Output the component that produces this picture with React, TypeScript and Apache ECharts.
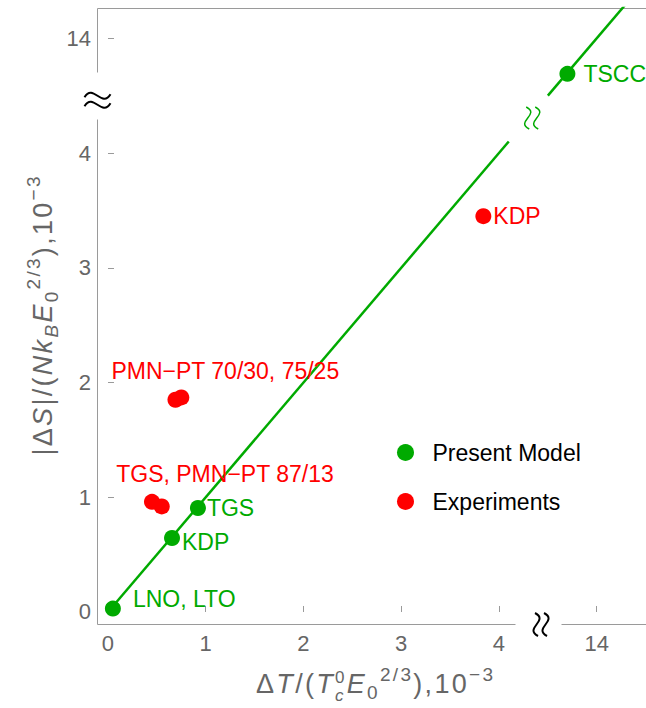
import React, { useEffect, useRef } from 'react';
import * as echarts from 'echarts';

// ---------------- data (values in units of 1e-3) ----------------
const xTickLabels = [0, 1, 2, 3, 4, 14];
const yTickLabels = [0, 1, 2, 3, 4, 14];

const modelLabels = ['LNO, LTO', 'KDP', 'TGS', 'TSCC'];
const modelDT = [0.05, 0.655, 0.92, 13.7];
const modelDS = [0.03, 0.645, 0.906, 13.69];

const expLabels = ['', 'PMN−PT 70/30, 75/25', 'TGS, PMN−PT 87/13', '', 'KDP'];
const expDT = [0.69, 0.75, 0.45, 0.55, 3.84];
const expDS = [1.85, 1.87, 0.96, 0.92, 3.45];

// model line |ΔS| = ΔT, drawn in two pieces around the axis break
const fitLowDT = [0, 4.1];
const fitLowDS = [0, 4.1];
const fitHighDT = [13.5, 14.6];
const fitHighDS = [13.5, 14.6];

// ---------------- broken-axis mapping ----------------
const BREAK_SPLIT = 9;
const BREAK_SHIFT = 9;
const disp = (v: number) => (v > BREAK_SPLIT ? v - BREAK_SHIFT : v);
const undisp = (v: number) => (v > 4.5 ? Math.round(v + BREAK_SHIFT) : Math.round(v * 100) / 100);

// ---------------- layout / style ----------------
const X_MIN = -0.1125, X_MAX = 5.504;
const Y_MIN = -0.1046, Y_MAX = 5.264;
const X_GAP = [4.16, 4.63];
const Y_GAP = [4.3, 4.706];
const X_BREAK_MARK = 4.43;
const Y_BREAK_MARK = 4.46;
const LINE_MARK = [4.34, 4.305];

const GREEN = '#00aa00';
const RED = '#ff0000';
const AXIS_COLOR = '#9a9a9a';
const LABEL_COLOR = '#666666';
const FAMILY = "'Liberation Sans', Arial, sans-serif";
const TEXT_SIZE = 23;

const modelLabelLayout = [
  { position: 'right', distance: 12, offset: [0, -10] },
  { position: 'right', distance: 2, offset: [0, 4] },
  { position: 'right', distance: 1, offset: [0, 0] },
  { position: 'right', distance: 8, offset: [0, 0] },
];
const expLabelLayout = [
  { position: 'right', distance: 2, offset: [0, 0] },
  { position: 'top', distance: 7, offset: [44, 0] },
  { position: 'top', distance: 8, offset: [73, 0] },
  { position: 'right', distance: 2, offset: [0, 0] },
  { position: 'right', distance: 2, offset: [0, 0] },
];

type Piece = { t: string; s: number; it?: boolean; rise?: number; overlay?: boolean };
const M = 27, S = 19, SS = 17, TRACK = 2.3;
const xNamePieces: Piece[] = [
  { t: 'Δ', s: M },
  { t: 'T', s: M, it: true },
  { t: '/(', s: M },
  { t: 'T', s: M, it: true },
  { t: '0', s: SS, rise: 10 },
  { t: 'c', s: SS, it: true, rise: -8, overlay: true },
  { t: 'E', s: M, it: true },
  { t: '0', s: S, rise: -6 },
  { t: '2/3', s: S, rise: 12 },
  { t: '),10', s: M },
  { t: '−3', s: S, rise: 12 },
];
const yNamePieces: Piece[] = [
  { t: '|Δ', s: M },
  { t: 'S', s: M, it: true },
  { t: '|/(', s: M },
  { t: 'Nk', s: M, it: true },
  { t: 'B', s: S, it: true, rise: -6 },
  { t: 'E', s: M, it: true },
  { t: '0', s: S, rise: -6 },
  { t: '2/3', s: S, rise: 12 },
  { t: '),10', s: M },
  { t: '−3', s: S, rise: 12 },
];

let measureCtx: CanvasRenderingContext2D | null = null;
function measure(text: string, size: number, italic?: boolean) {
  if (!measureCtx) measureCtx = document.createElement('canvas').getContext('2d');
  measureCtx!.font = `${italic ? 'italic ' : ''}${size}px ${FAMILY}`;
  return measureCtx!.measureText(text).width;
}

function buildName(pieces: Piece[], x: number, y: number, rotation: number) {
  const chars: { c: string; p: Piece; x: number }[] = [];
  let cursor = 0;
  let prevStart = 0;
  for (const p of pieces) {
    const start = p.overlay ? prevStart : cursor;
    let cx = start;
    for (const c of Array.from(p.t)) {
      chars.push({ c, p, x: cx });
      cx += measure(c, p.s, p.it) + TRACK;
    }
    cursor = Math.max(cursor, cx);
    prevStart = start;
  }
  const total = cursor - TRACK;
  const offset = -total / 2;
  const children = chars.map(({ c, p, x: px }) => ({
    type: 'text',
    x: px + offset,
    y: -(p.rise || 0) - 0.3465 * p.s,
    style: {
      text: c,
      fontSize: p.s,
      fontFamily: FAMILY,
      fontStyle: p.it ? 'italic' : 'normal',
      fill: LABEL_COLOR,
      align: 'left',
      verticalAlign: 'middle',
    },
  }));
  return { type: 'group', x, y, rotation, children };
}

function tildePair(x: number, y: number, rotation: number, w: number, sep: number, color: string, lw: number) {
  const curve = (dy: number) => ({
    type: 'bezierCurve',
    shape: {
      x1: -w / 2, y1: dy + 1.5,
      cpx1: -w / 6, cpy1: dy - 13,
      cpx2: w / 6, cpy2: dy + 13,
      x2: w / 2, y2: dy - 1.5,
    },
    style: { stroke: color, lineWidth: lw, fill: null },
  });
  return { type: 'group', x, y, rotation, children: [curve(-sep / 2), curve(sep / 2)] };
}

export default function App() {
  const ref = useRef<HTMLDivElement>(null);
  useEffect(() => {
    document.body.style.margin = '0';
    const chart = echarts.init(ref.current!, null, { renderer: 'svg' });

    const labelBase = { show: true, fontSize: TEXT_SIZE, fontFamily: FAMILY };

    const option: any = {
      animation: false,
      grid: { left: 97, top: 8, right: 0, bottom: 84 },
      legend: {
        data: ['Present Model', 'Experiments'],
        orient: 'vertical',
        left: 397,
        top: 441,
        padding: 0,
        icon: 'circle',
        itemWidth: 44,
        itemHeight: 17,
        itemGap: 26,
        selectedMode: false,
        textStyle: { fontSize: TEXT_SIZE, color: '#000', fontFamily: FAMILY, lineHeight: 21 },
      },
      xAxis: {
        type: 'value',
        min: X_MIN,
        max: X_MAX,
        axisLine: { show: false },
        splitLine: { show: false },
        axisTick: {
          show: true, inside: true, length: 6,
          customValues: xTickLabels.map(disp),
          lineStyle: { color: AXIS_COLOR },
        },
        axisLabel: {
          customValues: xTickLabels.map(disp),
          formatter: (v: number) => String(undisp(v)),
          color: LABEL_COLOR, fontSize: 22, fontFamily: FAMILY, margin: 8,
        },
      },
      yAxis: {
        type: 'value',
        min: Y_MIN,
        max: Y_MAX,
        axisLine: { show: false },
        splitLine: { show: false },
        axisTick: {
          show: true, inside: true, length: 6,
          customValues: yTickLabels.map(disp),
          lineStyle: { color: AXIS_COLOR },
        },
        axisLabel: {
          customValues: yTickLabels.map(disp),
          formatter: (v: number) => String(undisp(v)),
          color: LABEL_COLOR, fontSize: 22, fontFamily: FAMILY, margin: 6,
        },
      },
      series: [
        {
          type: 'line', name: 'fitLow', silent: true, symbol: 'none', z: 2,
          lineStyle: { color: GREEN, width: 2.5 },
          data: fitLowDT.map((x, i) => [disp(x), disp(fitLowDS[i])]),
        },
        {
          type: 'line', name: 'fitHigh', silent: true, symbol: 'none', z: 2,
          lineStyle: { color: GREEN, width: 2.5 },
          data: fitHighDT.map((x, i) => [disp(x), disp(fitHighDS[i])]),
        },
        {
          type: 'scatter', name: 'Experiments', symbol: 'circle', symbolSize: 16, z: 3,
          itemStyle: { color: RED, opacity: 1 },
          label: { ...labelBase, color: RED },
          data: expDT.map((x, i) => ({
            value: [disp(x), disp(expDS[i])],
            label: {
              show: expLabels[i] !== '',
              formatter: () => expLabels[i],
              position: expLabelLayout[i].position,
              distance: expLabelLayout[i].distance,
              offset: expLabelLayout[i].offset,
            },
          })),
        },
        {
          type: 'scatter', name: 'Present Model', symbol: 'circle', symbolSize: 16, z: 4,
          itemStyle: { color: GREEN, opacity: 1 },
          label: { ...labelBase, color: GREEN },
          data: modelDT.map((x, i) => ({
            value: [disp(x), disp(modelDS[i])],
            label: {
              show: true,
              formatter: () => modelLabels[i],
              position: modelLabelLayout[i].position,
              distance: modelLabelLayout[i].distance,
              offset: modelLabelLayout[i].offset,
            },
          })),
        },
      ],
    };
    chart.setOption(option);

    const px = (x: number, y: number) => chart.convertToPixel({ gridIndex: 0 }, [x, y]) as number[];
    const seg = (a: number[], b: number[]) => ({
      type: 'line',
      shape: {
        x1: Math.round(a[0]) + 0.5, y1: Math.round(a[1]) + 0.5,
        x2: Math.round(b[0]) + 0.5, y2: Math.round(b[1]) + 0.5,
      },
      style: { stroke: AXIS_COLOR, lineWidth: 1 },
      silent: true,
    });
    const bl = px(X_MIN, Y_MIN);
    const tr = px(X_MAX, Y_MAX);
    const xb = px(X_BREAK_MARK, Y_MIN);
    const yb = px(X_MIN, Y_BREAK_MARK);
    const lm = px(LINE_MARK[0], LINE_MARK[1]);

    chart.setOption({
      graphic: [
        seg(bl, px(X_GAP[0], Y_MIN)),
        seg(px(X_GAP[1], Y_MIN), [tr[0], bl[1]]),
        seg(bl, px(X_MIN, Y_GAP[0])),
        seg(px(X_MIN, Y_GAP[1]), [bl[0], tr[1]]),
        seg([bl[0], tr[1]], tr),
        tildePair(Math.round(yb[0]) + 0.5, yb[1], 0, 26, 9, '#000', 2),
        tildePair(xb[0], Math.round(xb[1]) + 0.5, Math.PI / 2, 23, 9, '#000', 2),
        tildePair(lm[0], lm[1], Math.PI / 2, 22, 9, GREEN, 1.5),
        buildName(xNamePieces, (bl[0] + tr[0]) / 2 + 3, bl[1] + 69, 0),
        buildName(yNamePieces, 52, (bl[1] + tr[1]) / 2, Math.PI / 2),
      ],
    });

    return () => chart.dispose();
  }, []);
  return <div ref={ref} style={{ width: 646, height: 708 }} />;
}
